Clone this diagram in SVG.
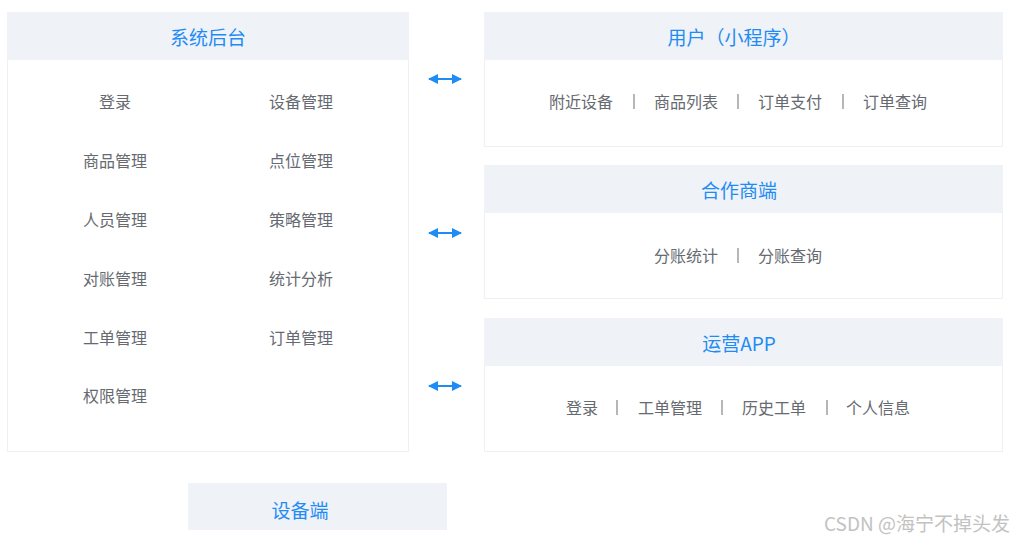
<svg xmlns="http://www.w3.org/2000/svg" width="1014" height="540" viewBox="0 0 1014 540">
<defs>
<style>
.box{fill:#ffffff;stroke:#edf0f4;stroke-width:1}
.hd{fill:#eff2f6}
.title{font-family:"Noto Sans CJK SC","Noto Sans",sans-serif;font-size:19px;fill:#1f8cf5;text-anchor:middle;dominant-baseline:central}
.item{font-family:"Noto Sans CJK SC","Noto Sans",sans-serif;font-size:16px;fill:#666a70;text-anchor:middle;dominant-baseline:central}
.sep{stroke:#8d9196;stroke-width:1.3}
.conn{stroke:#1f8cf5;stroke-width:2;fill:none;marker-start:url(#ah);marker-end:url(#ah)}
.wm{font-family:"Noto Sans CJK SC","Noto Sans",sans-serif;font-size:19px;fill:#c2c2c2;text-anchor:end;dominant-baseline:central}
</style>
<marker id="ah" viewBox="0 0 10 10" refX="9" refY="5" markerWidth="5" markerHeight="5" orient="auto-start-reverse" markerUnits="strokeWidth">
<path d="M0,0 L10,5 L0,10 Z" fill="#1f8cf5"/>
</marker>
</defs>
<rect width="1014" height="540" fill="#ffffff"/>

<g id="backend">
<rect class="box" x="7.5" y="12.5" width="401" height="439"/>
<rect class="hd" x="7" y="12" width="402" height="48"/>
<text class="title" x="208" y="36">系统后台</text>
<text class="item" x="115" y="101">登录</text>
<text class="item" x="301" y="101">设备管理</text>
<text class="item" x="115" y="160">商品管理</text>
<text class="item" x="301" y="160">点位管理</text>
<text class="item" x="115" y="219">人员管理</text>
<text class="item" x="301" y="219">策略管理</text>
<text class="item" x="115" y="278">对账管理</text>
<text class="item" x="301" y="278">统计分析</text>
<text class="item" x="115" y="337">工单管理</text>
<text class="item" x="301" y="337">订单管理</text>
<text class="item" x="115" y="395">权限管理</text>
</g>

<g id="user-miniapp">
<rect class="box" x="484.5" y="12.5" width="518" height="134"/>
<rect class="hd" x="484" y="12" width="519" height="48"/>
<text class="title" x="734" y="36">用户（小程序）</text>
<text class="item" x="581" y="101">附近设备</text>
<line class="sep" x1="634" y1="94" x2="634" y2="109"/>
<text class="item" x="686" y="101">商品列表</text>
<line class="sep" x1="738" y1="94" x2="738" y2="109"/>
<text class="item" x="790" y="101">订单支付</text>
<line class="sep" x1="843" y1="94" x2="843" y2="109"/>
<text class="item" x="895" y="101">订单查询</text>
</g>

<g id="partner">
<rect class="box" x="484.5" y="165.5" width="518" height="133"/>
<rect class="hd" x="484" y="165" width="519" height="48"/>
<text class="title" x="739" y="189">合作商端</text>
<text class="item" x="686" y="255">分账统计</text>
<line class="sep" x1="738" y1="248" x2="738" y2="263"/>
<text class="item" x="790" y="255">分账查询</text>
</g>

<g id="ops-app">
<rect class="box" x="484.5" y="318.5" width="518" height="133"/>
<rect class="hd" x="484" y="318" width="519" height="48"/>
<text class="title" x="739" y="342">运营APP</text>
<text class="item" x="582" y="407">登录</text>
<line class="sep" x1="617" y1="400" x2="617" y2="415"/>
<text class="item" x="670" y="407">工单管理</text>
<line class="sep" x1="722" y1="400" x2="722" y2="415"/>
<text class="item" x="774" y="407">历史工单</text>
<line class="sep" x1="827" y1="400" x2="827" y2="415"/>
<text class="item" x="878" y="407">个人信息</text>
</g>

<g id="device">
<rect class="hd" x="188" y="483" width="259" height="47"/>
<text class="title" x="300" y="509">设备端</text>
</g>

<g id="connectors">
<line class="conn" x1="429" y1="79" x2="461" y2="79"/>
<line class="conn" x1="429" y1="233" x2="461" y2="233"/>
<line class="conn" x1="429" y1="386" x2="461" y2="386"/>
</g>

<text class="wm" x="1010" y="522">CSDN @海宁不掉头发</text>
</svg>
